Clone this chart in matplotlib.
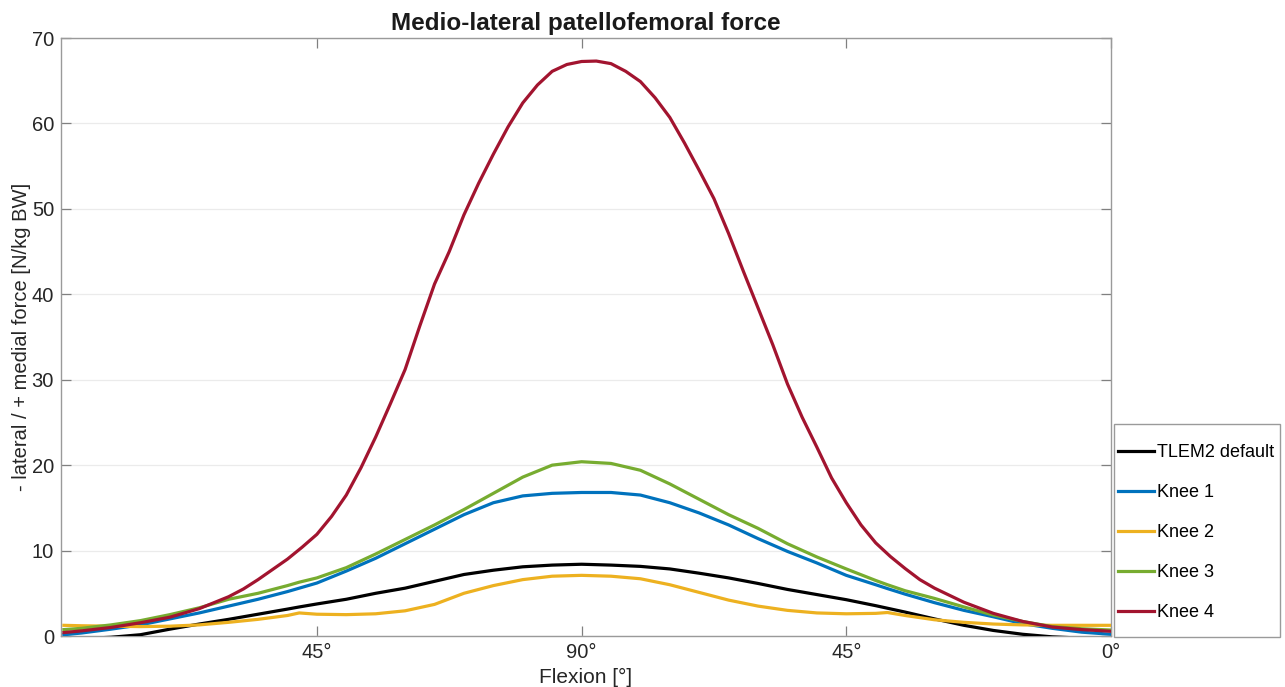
import numpy as np
import matplotlib
matplotlib.use("Agg")
import matplotlib.pyplot as plt
from matplotlib.patches import Rectangle

# Flexion cycle position (0 -> 90 -> 0 degrees, drawn as 0..180)
cycle = [2, 5, 10, 15, 20, 25, 30, 35, 40, 42, 45, 50, 55, 60, 65, 70, 75, 80, 85, 90,
         95, 100, 105, 110, 115, 120, 125, 130, 135, 140, 142, 145, 150, 155, 160, 165,
         170, 175, 180]

tlem2_default = [-0.3, -0.3, -0.15, 0.15, 0.8, 1.4, 1.95, 2.55, 3.15, 3.4, 3.75, 4.3, 5.0,
                 5.6, 6.4, 7.2, 7.7, 8.1, 8.3, 8.4,
                 8.3, 8.15, 7.85, 7.35, 6.8, 6.15, 5.45, 4.85, 4.25, 3.55, 3.25, 2.8, 2.0,
                 1.25, 0.65, 0.2, -0.1, -0.25, -0.3]
knee1 = [0.15, 0.35, 0.8, 1.3, 2.0, 2.7, 3.5, 4.3, 5.2, 5.6, 6.2, 7.6, 9.1, 10.8, 12.5,
         14.2, 15.6, 16.4, 16.7, 16.8,
         16.8, 16.5, 15.6, 14.4, 13.0, 11.4, 9.9, 8.55, 7.1, 6.0, 5.55, 4.9, 3.9, 3.0,
         2.25, 1.45, 0.9, 0.45, 0.2]
knee2 = [1.25, 1.2, 1.15, 1.1, 1.15, 1.3, 1.6, 1.95, 2.4, 2.7, 2.55, 2.5, 2.6, 2.95, 3.7,
         5.0, 5.9, 6.6, 7.0, 7.1,
         7.0, 6.7, 6.0, 5.1, 4.2, 3.5, 3.0, 2.7, 2.6, 2.65, 2.75, 2.4, 1.9, 1.6, 1.4,
         1.3, 1.25, 1.25, 1.25]
knee3 = [0.75, 0.9, 1.3, 1.8, 2.5, 3.3, 4.3, 5.0, 5.9, 6.3, 6.8, 8.0, 9.6, 11.3, 13.0,
         14.8, 16.7, 18.6, 20.0, 20.4,
         20.2, 19.4, 17.8, 16.0, 14.2, 12.6, 10.8, 9.25, 7.85, 6.5, 6.0, 5.3, 4.4, 3.4,
         2.45, 1.7, 1.1, 0.85, 0.7]

cycle_k4 = [2, 5, 10, 15, 20, 25, 30, 32.5, 35, 37.5, 40, 42.5, 45, 47.5, 50, 52.5, 55,
            57.5, 60, 62.5, 65, 67.5, 70, 72.5, 75, 77.5, 80, 82.5, 85, 87.5, 90, 92.5,
            95, 97.5, 100, 102.5, 105, 107.5, 110, 112.5, 115, 117.5, 120, 122.5, 125,
            127.5, 130, 132.5, 135, 137.5, 140, 142.5, 145, 147.5, 150, 155, 160, 165,
            170, 175, 180]
knee4 = [0.4, 0.6, 1.0, 1.55, 2.2, 3.2, 4.6, 5.5, 6.6, 7.8, 9.0, 10.4, 11.9, 14.0, 16.5,
         19.7, 23.3, 27.2, 31.2, 36.3, 41.2, 45.0, 49.3, 53.0, 56.4, 59.6, 62.4, 64.5,
         66.1, 66.9, 67.25, 67.3,
         67.0, 66.1, 64.9, 63.0, 60.7, 57.7, 54.5, 51.2, 47.1, 42.7, 38.4, 34.1, 29.5,
         25.6, 22.1, 18.5, 15.6, 13.0, 10.9, 9.3, 7.9, 6.6, 5.6, 3.95, 2.65, 1.7, 1.05,
         0.75, 0.55]

labels = ["TLEM2 default", "Knee 1", "Knee 2", "Knee 3", "Knee 4"]
colors = ["#000000", "#0072BD", "#EDB120", "#77AC30", "#A2142F"]

xtick_pos = [45, 90, 135, 180]
xtick_labels = ["45°", "90°", "45°", "0°"]
ytick_pos = [0, 10, 20, 30, 40, 50, 60, 70]


def main():
    plt.rcParams["font.family"] = ["Liberation Sans", "DejaVu Sans"]

    fig = plt.figure(figsize=(12.85, 6.87), dpi=100)
    ax = fig.add_axes([61 / 1285, 1 - 636 / 687, (1111 - 61) / 1285, (636 - 38) / 687])

    xs = [cycle, cycle, cycle, cycle, cycle_k4]
    series = [tlem2_default, knee1, knee2, knee3, knee4]
    handles = []
    for x, values, label, color in zip(xs, series, labels, colors):
        h, = ax.plot(x, values, color=color, lw=2.3, label=label, zorder=3,
                     solid_joinstyle="round")
        handles.append(h)

    ax.set_xlim(1.5, 180)
    ax.set_ylim(0, 70)
    ax.set_xticks(xtick_pos)
    ax.set_xticklabels(xtick_labels)
    ax.set_yticks(ytick_pos)

    ax.yaxis.grid(True, color="#ebebeb", lw=0.9)
    ax.set_axisbelow(True)
    for sp in ax.spines.values():
        sp.set_color("#9a9a9a")
        sp.set_linewidth(1.0)
    ax.tick_params(direction="in", length=7, width=0.9, color="#808080",
                   top=True, right=True, labelsize=14.5, labelcolor="#262626")
    ax.tick_params(axis="x", pad=5)
    ax.tick_params(axis="y", pad=5)

    ax.set_title("Medio-lateral patellofemoral force", fontsize=17.5,
                 fontweight="bold", color="#1a1a1a", pad=6)
    ax.set_ylabel("- lateral / + medial force [N/kg BW]", fontsize=14.5, color="#262626")
    ax.yaxis.set_label_coords(-0.0285, 0.5)
    ax.set_xlabel("Flexion [°]", fontsize=15, color="#262626", va="top")
    ax.xaxis.set_label_coords(0.5, -0.053)

    # legend box outside the axes, bottom right
    fig.patches.append(Rectangle((1114 / 1285, 1 - 637 / 687), (1280 - 1114) / 1285,
                                 (637 - 424) / 687, transform=fig.transFigure,
                                 facecolor="white", edgecolor="#9a9a9a", lw=1.0,
                                 zorder=0))
    fig.legend(handles=handles, loc="center", bbox_to_anchor=(0.931, 0.2245),
               frameon=False, fontsize=13, borderpad=0, labelspacing=1.27,
               handlelength=1.95, handletextpad=0.2)

    fig.savefig("out.png", dpi=100)


if __name__ == "__main__":
    main()
